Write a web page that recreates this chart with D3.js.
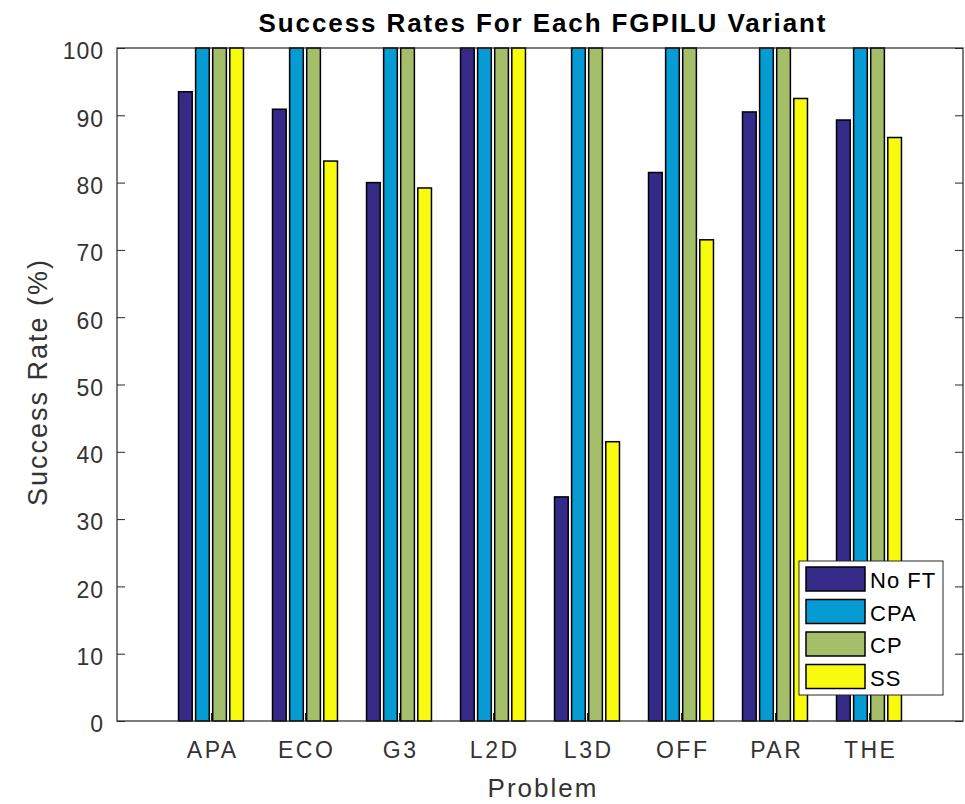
<!DOCTYPE html>
<meta charset="utf-8">
<script src="https://cdn.jsdelivr.net/npm/d3@7"></script>
<style>
body { margin: 0; background: #fff; }
text { font-family: "Liberation Sans", Arial, Helvetica, sans-serif; }
.axis line, .axis path { stroke: #262626; }
.axis text { fill: #333; font-size: 23px; letter-spacing: 1px; }
.xaxis text { letter-spacing: 2.5px; }
</style>
<body>
<div id="container"></div>
<script>
// ---------------- data ----------------
var problems = ["APA", "ECO", "G3", "L2D", "L3D", "OFF", "PAR", "THE"];
var variants = ["No FT", "CPA", "CP", "SS"];
var noFT = [93.5, 90.9, 80.0, 100, 33.3, 81.5, 90.5, 89.3];
var cpa  = [100, 100, 100, 100, 100, 100, 100, 100];
var cp   = [100, 100, 100, 100, 100, 100, 100, 100];
var ss   = [100, 83.2, 79.2, 100, 41.5, 71.5, 92.5, 86.7];
var yTicks = [0, 10, 20, 30, 40, 50, 60, 70, 80, 90, 100];
var colors = ["#352a87", "#069bd2", "#a5be6a", "#f9fb0e"];

var series = [noFT, cpa, cp, ss];

// ---------------- layout ----------------
var W = 965, H = 804;
var pLeft = 117, pRight = 963, pTop = 48, pBottom = 721;

var svg = d3.select("#container").append("svg")
    .attr("width", W)
    .attr("height", H);

var x = d3.scaleLinear().domain([0, problems.length + 1]).range([pLeft, pRight]);
var y = d3.scaleLinear().domain([0, 100]).range([pBottom, pTop]);

// MATLAB-like grouped bar geometry
var groupWidth = Math.min(0.8, variants.length / (variants.length + 1.5));
var slot = groupWidth / variants.length;
var barW = slot * 0.8;

// bars
variants.forEach(function(v, j) {
    var off = -groupWidth / 2 + slot * (j + 0.5);
    svg.append("g").selectAll("rect")
        .data(series[j])
        .enter()
        .append("rect")
        .attr("x", function(d, i) { return x(i + 1 + off - barW / 2); })
        .attr("width", function() { return x(barW) - x(0); })
        .attr("y", function(d) { return y(d); })
        .attr("height", function(d) { return y(0) - y(d); })
        .attr("fill", colors[j])
        .attr("stroke", "#000")
        .attr("stroke-width", 1.5);
});

// box
svg.append("rect")
    .attr("x", pLeft).attr("y", pTop)
    .attr("width", pRight - pLeft).attr("height", pBottom - pTop)
    .attr("fill", "none")
    .attr("stroke", "#262626")
    .attr("stroke-width", 1.2);

// left axis
var yAxis = d3.axisLeft(y).tickValues(yTicks).tickSize(-8).tickPadding(13);
svg.append("g")
    .attr("class", "axis")
    .attr("transform", "translate(" + pLeft + ",0)")
    .call(yAxis)
    .call(function(g) {
        g.select(".domain").remove();
        g.selectAll("text").attr("dy", "0.47em");
    });

// right axis ticks
var yAxisR = d3.axisRight(y).tickValues(yTicks).tickSize(-8).tickFormat("");
svg.append("g")
    .attr("class", "axis")
    .attr("transform", "translate(" + pRight + ",0)")
    .call(yAxisR)
    .call(function(g) { g.select(".domain").remove(); });

// bottom axis
var xAxis = d3.axisBottom(x)
    .tickValues(d3.range(1, problems.length + 1))
    .tickFormat(function(d) { return problems[d - 1]; })
    .tickSize(-8).tickPadding(21);
svg.append("g")
    .attr("class", "axis xaxis")
    .attr("transform", "translate(0," + pBottom + ")")
    .call(xAxis)
    .call(function(g) {
        g.select(".domain").remove();
        g.selectAll("text").attr("dx", "1.2");
    });

// title and labels
svg.append("text")
    .attr("x", (pLeft + pRight) / 2 + 3)
    .attr("y", 32)
    .attr("text-anchor", "middle")
    .style("font-size", "26px")
    .style("font-weight", "bold")
    .style("letter-spacing", "1.9px")
    .style("fill", "#000")
    .text("Success Rates For Each FGPILU Variant");

svg.append("text")
    .attr("x", (pLeft + pRight) / 2 + 3)
    .attr("y", 797)
    .attr("text-anchor", "middle")
    .style("font-size", "26px")
    .style("letter-spacing", "2px")
    .style("fill", "#333")
    .text("Problem");

svg.append("text")
    .attr("transform", "translate(47,382) rotate(-90)")
    .attr("text-anchor", "middle")
    .style("font-size", "27px")
    .style("letter-spacing", "2px")
    .style("fill", "#333")
    .text("Success Rate (%)");

// legend
var lg = svg.append("g").attr("transform", "translate(799,561)");
lg.append("rect")
    .attr("width", 144).attr("height", 134)
    .attr("fill", "#fff")
    .attr("stroke", "#262626")
    .attr("stroke-width", 1);
variants.forEach(function(v, j) {
    var row = lg.append("g").attr("transform", "translate(7," + (6 + j * 32.5) + ")");
    row.append("rect")
        .attr("width", 59).attr("height", 24)
        .attr("fill", colors[j])
        .attr("stroke", "#000")
        .attr("stroke-width", 1.5);
    row.append("text")
        .attr("x", 64).attr("y", 21)
        .style("font-size", "22px")
        .style("letter-spacing", "1px")
        .style("fill", "#000")
        .text(v);
});
</script>
</body>
